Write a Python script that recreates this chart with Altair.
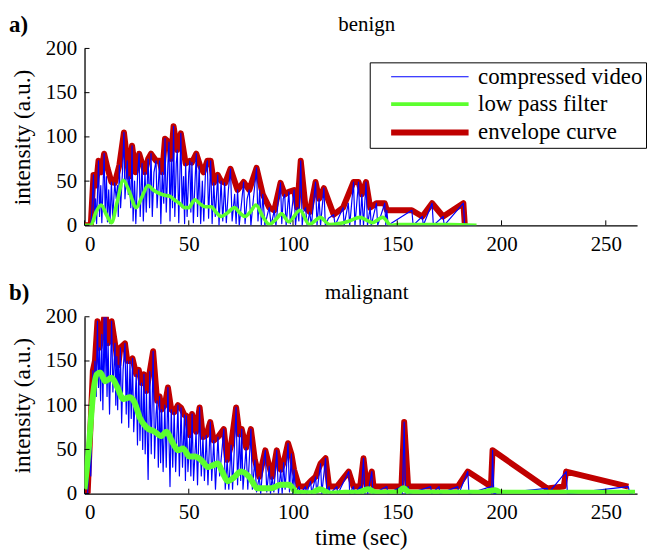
import altair as alt
import pandas as pd

FONT = "Liberation Serif"
SERIES = ["compressed video", "low pass filter", "envelope curve"]
COLORS = ["#0000FF", "#5CFF2E", "#C00000"]
WIDTHS = [1.2, 6, 6]
X_TICKS = [0, 50, 100, 150, 200, 250]
Y_TICKS = [0, 50, 100, 150, 200]

# ---------------- panel a (benign) ----------------
env_a = [(0,0),(3,0),(4.3,57),(5.5,45),(6.7,73),(8,60),(9.4,81),(11,65),(12.9,49),(14.5,48),
         (16.7,68),(18.9,105),(20.5,73),(21.3,55),(22.8,90),(24.5,60),(26.2,81),(27.6,70),(29,60),
         (30.5,75),(31.9,81),(34.3,73),(36,73),(37.3,60),(38.6,98),(40.5,94),(41.5,75),(42.7,112),
         (44.5,85),(46.2,104),(48.5,70),(50.5,73),(51.5,71),(53.6,81),(55.5,67),(57,60),(58.9,73),
         (60.5,73),(62,48),(63.9,57),(65.5,50),(67.5,48),(70,64),(73.4,40),(76.3,49),(79,40),
         (82.5,65),(85.5,35),(88.6,20),(91,17),(94,48),(96,35),(98,38),(100.5,40),(102,20),
         (103.7,73),(106,20),(108,15),(110.8,49),(112.5,30),(114.8,42),(119.5,12),(124,20),
         (129,49),(131.4,49),(133,35),(135,49),(137,20),(140,25),(144,25),(145,17),(157,17),
         (162,10),(166.7,25),(172,10),(181.7,25),(182.4,0)]

blue_a = [(0,0),(3,0),(3.6,20),(4.3,57),(4.8,5),(5.3,30),(5.8,2),(6.7,73),(7.2,10),(7.8,45),(8.3,3),
          (9.4,81),(9.9,15),(10.5,55),(11,4),(11.6,40),(12.2,2),(12.9,49),(13.5,8),(14.5,48),
          (15.2,30),(15.8,45),(16.2,10),(16.7,68),(17.3,20),(18.2,60),(18.9,105),(19.4,30),(20,55),
          (20.5,73),(21,35),(21.5,55),(22.2,20),(22.8,90),(23.3,5),(24,50),(24.6,2),(25.5,60),
          (26.2,81),(26.7,10),(27.6,70),(28.2,5),(29,60),(29.6,15),(30.5,75),(31.2,20),(31.9,81),
          (32.5,10),(33.3,60),(34.3,73),(34.8,20),(35.5,50),(36,73),(36.6,2),(37.3,60),(38,25),
          (38.6,98),(39.2,15),(40,70),(40.5,94),(41,5),(41.6,75),(42.2,20),(42.7,112),(43.3,10),
          (44,70),(44.5,85),(45.2,3),(46.2,104),(46.8,20),(47.5,55),(48,2),(48.5,70),(49.2,10),
          (50,60),(50.5,73),(51,15),(51.5,71),(52.2,3),(53,50),(53.6,81),(54.2,10),(55,67),
          (55.7,2),(56.5,50),(57.2,5),(58,60),(58.9,73),(59.5,8),(60.5,73),(61.2,2),(62,48),
          (62.7,10),(63.9,57),(64.5,0),(65.5,50),(66.3,5),(67.2,48),(68,3),(69,40),(70,64),
          (70.8,5),(72,35),(72.7,2),(73.4,40),(74.2,0),(75.5,30),(76.3,49),(77,2),(78,30),(79,40),
          (79.8,0),(81,30),(82.5,65),(83.2,5),(84,40),(84.8,0),(85.5,35),(86.5,0),(88,15),
          (88.6,20),(89.5,0),(91,17),(91.8,0),(93,30),(94,48),(94.6,2),(95.3,30),(96,35),(96.7,0),
          (98,38),(98.7,2),(100.5,40),(101.2,0),(102,20),(102.8,5),(103.7,73),(104.4,0),(105,15),
          (106,20),(106.8,0),(108,15),(108.8,0),(110,30),(110.8,49),(111.5,0),(112.5,30),
          (113.2,0),(114.8,42),(115.5,0),(117,8),(119.5,12),(120.2,0),(124,20),(124.5,0),
          (126.5,25),(127.2,0),(129,49),(129.7,0),(131.4,49),(132.2,0),(133,35),(133.8,0),
          (135,49),(135.7,0),(137,20),(137.5,0),(140,25),(140.6,0),(144,25),(144.5,0),(145,17),
          (145.6,0),(157,17),(157.6,0),(162,10),(162.5,0),(166.7,25),(167.3,0),(172,10),
          (172.5,0),(181.7,25),(182.3,0),(187,0)]

green_a = [(0,0),(3,0),(5.5,15),(8,23),(10.5,12),(13,3),(15.5,25),(18.6,51),(21.5,38),(24.8,20),
           (27.5,32),(30.5,45),(33,40),(36,36),(38.5,34),(40.8,33),(43,29),(45.5,25),(48,20),
           (50,20),(52.9,29),(55.5,24),(57.8,21),(60.8,21),(63,15),(65.5,10),(68.5,14),(71.9,20),
           (74.5,14),(77,10),(79.5,15),(82.2,23),(85.5,10),(88.6,1),(91.5,6),(94.5,13),(98,4),
           (103.3,17),(107.8,1),(110.5,5),(113,9),(117.5,1),(122,2),(127,5),(132,9),(136,5),
           (138,3),(143,9),(147,0),(150,1),(160,1),(175,1),(188,0)]

# ---------------- panel b (malignant) ----------------
env_b = [(1.5,0),(4,139),(5,150),(6.2,195),(7.2,165),(8.3,180),(9.4,199),(10.3,199),(11.3,170),
         (13,195),(14.6,170),(15.5,155),(16.2,145),(17.2,165),(19.4,170),(20.5,150),(21.8,150),
         (23,153),(24.8,135),(26,140),(27.3,125),(28.5,135),(29.7,116),(31.3,138),(32.9,161),
         (34.8,105),(36,110),(37,95),(38.5,100),(40,120),(41.6,95),(43,92),(44.8,100),(46.3,97),
         (47.9,89),(48.9,88),(50.5,66),(51.6,90),(53.5,70),(55.2,97.5),(56.8,64),(58.4,66),
         (60.3,81),(62,60),(64,64),(66.8,73),(68.4,38),(70.3,55),(72.7,97.5),(74.3,67),(75.4,73),
         (77.5,52),(79.8,73),(81.7,38),(83.8,19),(86.7,49),(88.6,31),(90,19),(92.2,49),(94.1,27),
         (95.5,35),(97.6,57),(99.2,45),(100.5,27),(102.9,8),(106,8),(108.4,14),(110.8,19),
         (113.2,34),(115.6,40),(117.3,8),(121,8),(126.7,25),(129,8),(132.2,8),(133.8,40),
         (135.4,8),(137.8,25),(138.6,8),(152,8),(153.3,81),(155.2,8),(179,8),(183.8,25),
         (194.9,8),(195.7,49),(221.9,6),(229.8,8),(231,25),(260.8,8)]

blue_b = [(0,0),(1.5,0),(2.5,60),(3,20),(4,139),(4.5,100),(5,150),(5.6,110),(6.2,195),(6.7,120),
          (7.2,165),(7.7,105),(8.3,180),(8.8,95),(9.4,199),(9.8,130),(10.3,199),(10.8,110),
          (11.3,170),(12,90),(13,195),(13.6,115),(14.6,170),(15,100),(15.5,155),(15.9,95),
          (16.2,145),(16.7,110),(17.2,165),(17.8,80),(18.5,140),(19.4,170),(20,90),(20.5,150),
          (21.2,75),(21.8,150),(22.4,85),(23,153),(23.6,70),(24.8,135),(25.4,55),(26,140),
          (26.6,60),(27.3,125),(27.9,50),(28.5,135),(29.1,45),(29.7,116),(30.5,16),(31.3,138),
          (32,45),(32.9,161),(33.6,40),(34.3,90),(34.8,105),(35.4,30),(36,110),(36.5,35),(37,95),
          (37.7,25),(38.5,100),(39.2,30),(40,120),(41,8),(41.6,95),(42.3,30),(43,92),(43.7,25),
          (44.8,100),(45.5,20),(46.3,97),(47,30),(47.9,89),(48.4,15),(48.9,88),(49.6,25),
          (50.5,66),(51,20),(51.6,90),(52.3,15),(53.5,70),(54.2,10),(55.2,97.5),(56,20),
          (56.8,64),(57.5,15),(58.4,66),(59.2,10),(60.3,81),(61,15),(62,60),(62.8,5),(64,64),
          (64.8,20),(66.8,73),(67.5,5),(68.4,38),(69.2,5),(70.3,55),(71,5),(72.7,97.5),(73.4,10),
          (74.3,67),(74.9,15),(75.4,73),(76,5),(77.5,52),(78.3,5),(79.8,73),(80.5,5),(81.7,38),
          (82.5,2),(83.8,19),(84.5,0),(85.5,30),(86.7,49),(87.4,2),(88.6,31),(89.2,0),(90,19),
          (90.8,2),(92.2,49),(93,0),(94.1,27),(94.8,0),(95.5,35),(96.2,5),(97.6,57),(98.3,2),
          (99.2,45),(99.8,0),(100.5,27),(101.2,0),(102.9,8),(103.5,0),(106,8),(106.5,0),
          (108.4,14),(109,0),(110.8,19),(111.4,0),(113.2,34),(113.8,0),(115.6,40),(116.2,0),
          (117.3,8),(117.8,0),(121,8),(121.5,0),(126.7,25),(127.2,0),(129,8),(129.5,0),(132.2,8),
          (132.7,0),(133.8,40),(134.4,0),(135.4,8),(135.8,0),(137.8,25),(138.3,0),(145,8),
          (145.5,0),(152,8),(152.5,0),(153.3,81),(153.9,0),(155.2,8),(155.7,0),(166,8),(166.5,0),
          (170,8),(170.5,0),(179,8),(179.5,0),(183.8,25),(184.4,0),(194.9,8),(195.3,0),(195.7,49),
          (196.3,0),(221.9,6),(222.3,0),(231,25),(231.6,0),(260.8,8),(261.5,0),(263,0)]

green_b = [(0,5),(2,50),(4,110),(5.9,135),(7.5,137),(9.9,127),(13,131),(15.4,122),(18.6,107),
           (21.8,109),(24.2,102),(26.5,86),(29.7,75),(33.7,70),(36.8,65),(39.2,70),(42.4,57),
           (44.8,49),(47.2,51),(50.3,42),(52.9,42),(56,38),(59.2,30),(61.5,32),(64,34),(66,25),
           (68.7,14),(71.5,18),(75.1,25),(79,19),(83,6),(89.4,6),(94.1,10),(98,10),(102,1),
           (108.4,0.5),(113,5),(118,0),(125,1),(131,1),(136,5),(140,1),(150,1),(153,6),(156,1),
           (190,1),(197,4),(200,1),(230,1),(264,1)]

W, H = 556, 178
AX = dict(labelFont=FONT, labelFontSize=21, titleFont=FONT, titleFontSize=23.5,
          titleFontWeight="normal", labelColor="black", titleColor="black",
          ticks=False, labelPadding=8, domainColor="black", domainWidth=1.3, grid=False)


def df(pairs, name):
    return pd.DataFrame({"t": [p[0] for p in pairs], "v": [p[1] for p in pairs], "series": name})


def x_enc(with_title):
    kw = dict(AX, values=X_TICKS)
    if with_title:
        kw["title"] = "time (sec)"
        kw["titlePadding"] = 3
    else:
        kw["title"] = None
    return alt.X("t:Q", scale=alt.Scale(domain=[0, 265], nice=False, zero=False),
                 axis=alt.Axis(**kw))


def y_enc():
    return alt.Y("v:Q", scale=alt.Scale(domain=[0, 200], nice=False),
                 axis=alt.Axis(values=Y_TICKS, title="intensity (a.u.)", titlePadding=11, **AX))


legend = alt.Legend(title=None, orient="none", legendX=287, legendY=14, fillColor="white",
                    strokeColor="black", padding=3, symbolType="M-5,0H5",
                    symbolSize=243, labelFont=FONT, labelFontSize=23, labelColor="black",
                    labelOffset=37, rowPadding=3.5, symbolOffset=46, labelLimit=300)


def panel(blue, green, env, letter, title, with_legend, with_xtitle):
    X = x_enc(with_xtitle)
    Y = y_enc()
    layers = []
    for pairs, idx, interp in [(env, 2, "linear"), (blue, 0, "linear"), (green, 1, "monotone")]:
        d = df(pairs, SERIES[idx])
        if with_legend:
            m = alt.Chart(d).mark_line(interpolate=interp, clip=True, strokeJoin="round").encode(
                x=X, y=Y,
                color=alt.Color("series:N", scale=alt.Scale(domain=SERIES, range=COLORS), legend=legend),
                strokeWidth=alt.StrokeWidth("series:N", scale=alt.Scale(domain=SERIES, range=WIDTHS),
                                            legend=legend),
            )
        else:
            m = alt.Chart(d).mark_line(interpolate=interp, clip=True, strokeJoin="round",
                                       color=COLORS[idx], strokeWidth=WIDTHS[idx]).encode(x=X, y=Y)
        layers.append(m)
    xt = alt.Chart(pd.DataFrame({"t": X_TICKS})).mark_rule(color="black", strokeWidth=1).encode(
        x=X, y=alt.value(H), y2=alt.value(H - 5))
    yt = alt.Chart(pd.DataFrame({"v": Y_TICKS})).mark_rule(color="black", strokeWidth=1).encode(
        y=Y, x=alt.value(0), x2=alt.value(5))
    lab = alt.Chart(pd.DataFrame({"lab": [letter]})).mark_text(
        font=FONT, fontSize=23, fontWeight="bold", align="left", baseline="middle", color="black"
    ).encode(text="lab:N", x=alt.value(-76), y=alt.value(-24))
    ttl = alt.Chart(pd.DataFrame({"ttl": [title]})).mark_text(
        font=FONT, fontSize=21, align="center", baseline="middle", color="black"
    ).encode(text="ttl:N", x=alt.value(284), y=alt.value(-24))
    return alt.layer(*layers, xt, yt, lab, ttl).properties(width=W, height=H)


pa = panel(blue_a, green_a, env_a, "a)", "benign", True, False)
pb = panel(blue_b, green_b, env_b, "b)", "malignant", False, True)

chart = alt.vconcat(pa, pb, spacing=26).resolve_scale(
    color="independent", strokeWidth="independent"
).properties(
    padding={"top": 3, "left": 0, "right": 0, "bottom": 0}, background="white"
).configure(font=FONT).configure_view(stroke="transparent").configure_axis(
    labelFont=FONT, titleFont=FONT
).configure_legend(labelFont=FONT)

chart.save("out.html", embed_options={"renderer": "svg", "actions": False})
